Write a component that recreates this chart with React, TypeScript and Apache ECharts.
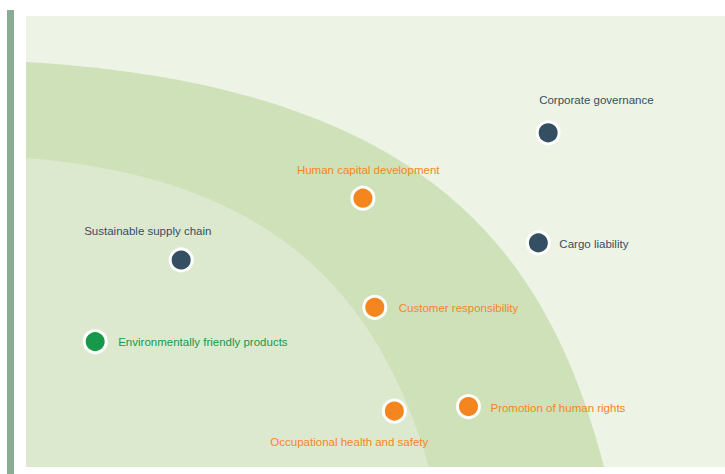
import React, { useEffect, useRef } from "react";
import * as echarts from "echarts";

// Materiality topics (x: impact, y: importance)
const topics = [
  "Corporate governance",
  "Cargo liability",
  "Human capital development",
  "Customer responsibility",
  "Sustainable supply chain",
  "Environmentally friendly products",
  "Occupational health and safety",
  "Promotion of human rights",
];
const impactX = [74.7, 73.3, 48.2, 49.9, 22.2, 9.9, 52.7, 63.3];
const importanceY = [74.1, 49.7, 59.6, 35.4, 45.9, 27.8, 12.4, 13.4];
const pillar = [
  "governance",
  "governance",
  "social",
  "social",
  "governance",
  "environment",
  "social",
  "social",
];

// label layout (text start x, text middle y relative to the marker)
const labelOffsets: number[][] = [
  [-9, -33],
  [21, 1],
  [-66, -28],
  [24, 1],
  [-97, -29],
  [23, 0],
  [-124, 31],
  [22, 1],
];

const pillarColors: Record<string, string> = {
  governance: "#344f62",
  social: "#f5861f",
  environment: "#17994a",
};

const OUTER_BAND =
  "M26,62 C421,85.7 546.3,245 604,467 L26,467 Z";
const INNER_AREA =
  "M26,158 C271,177.6 378,291 429,467 L26,467 Z";

let registered = false;
function registerShapes() {
  if (registered) return;
  registered = true;
  echarts.graphic.registerShape(
    "outerBand",
    echarts.graphic.extendPath(OUTER_BAND, {})
  );
  echarts.graphic.registerShape(
    "innerArea",
    echarts.graphic.extendPath(INNER_AREA, {})
  );
}

export default function App() {
  const ref = useRef<HTMLDivElement>(null);

  useEffect(() => {
    document.body.style.margin = "0";
    registerShapes();
    const chart = echarts.init(ref.current!, null, { renderer: "svg" });
    const data = topics.map((name, i) => {
      const color = pillarColors[pillar[i]];
      return {
        name,
        value: [impactX[i], importanceY[i]],
        itemStyle: { color, borderColor: "#ffffff", borderWidth: 3, opacity: 1 },
        label: {
          show: true,
          position: "inside",
          align: "left",
          verticalAlign: "middle",
          offset: labelOffsets[i],
          color,
          formatter: "{b}",
        },
      };
    });
    chart.setOption({
      animation: false,
      backgroundColor: "#ffffff",
      grid: { left: 26, top: 16, width: 699, height: 451 },
      xAxis: { type: "value", min: 0, max: 100, show: false },
      yAxis: { type: "value", min: 0, max: 100, show: false },
      graphic: [
        {
          type: "rect",
          z: 0,
          shape: { x: 7, y: 10, width: 7, height: 464 },
          style: { fill: "#8aab94" },
          silent: true,
        },
        {
          type: "rect",
          z: 0,
          shape: { x: 26, y: 16, width: 699, height: 451 },
          style: { fill: "#edf3e5" },
          silent: true,
        },
        {
          type: "outerBand",
          z: 0,
          x: 0,
          y: 0,
          style: { fill: "#cfe1b8" },
          silent: true,
        },
        {
          type: "innerArea",
          z: 0,
          x: 0,
          y: 0,
          style: { fill: "#dde9cf" },
          silent: true,
        },
      ],
      series: [
        {
          type: "scatter",
          symbol: "circle",
          symbolSize: 22,
          z: 5,
          data,
          itemStyle: { opacity: 1 },
          label: {
            fontFamily: "'Liberation Sans', Arial, sans-serif",
            fontSize: 11.5,
          },
        },
      ],
    });
    return () => chart.dispose();
  }, []);

  return <div ref={ref} style={{ width: 725, height: 474 }} />;
}
